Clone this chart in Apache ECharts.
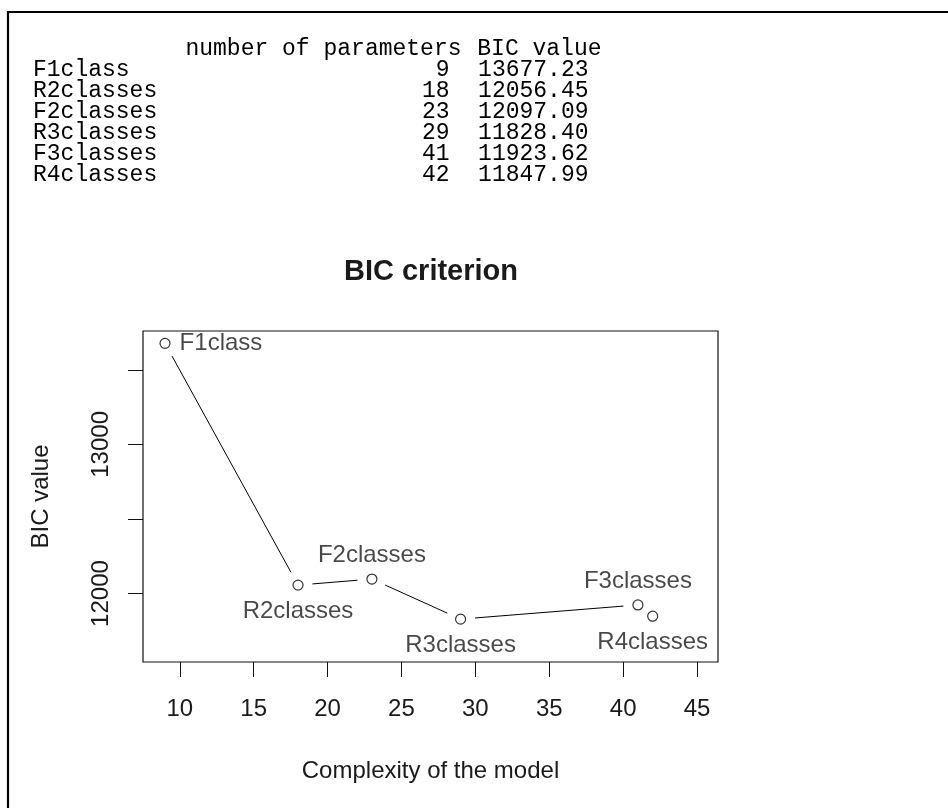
<!DOCTYPE html>
<html>
<head>
<meta charset="utf-8">
<title>BIC criterion</title>
<script src="https://cdn.jsdelivr.net/npm/echarts@6/dist/echarts.min.js"></script>
<style>
  html, body { margin: 0; padding: 0; background: #fff; }
  #chart { width: 948px; height: 808px; }
</style>
</head>
<body>
<div id="chart"></div>
<script>
// Model comparison: number of parameters and BIC value for each fitted model
const modelNames = ['F1class', 'R2classes', 'F2classes', 'R3classes', 'F3classes', 'R4classes'];
const paramCounts = [9, 18, 23, 29, 41, 42];
const bicValues = [13677.23, 12056.45, 12097.09, 11828.40, 11923.62, 11847.99];

// Axis ticks and the subset that carries labels
const xTickValues = [10, 15, 20, 25, 30, 35, 40, 45];
const yTickValues = [12000, 12500, 13000, 13500];
const yLabelValues = [12000, 13000];

// Table header
const tableHeader = ['number of parameters', 'BIC value'];

const chart = echarts.init(document.getElementById('chart'), null, { renderer: 'canvas' });

const plotFont = 'Liberation Sans, Arial, sans-serif';
const monoFont = 'Liberation Mono, Courier New, monospace';
const textColor = '#1a1a1a';

// Label side for each point name (text placed around its marker)
const labelSide = {
  F1class: 'right', R2classes: 'bottom', F2classes: 'top',
  R3classes: 'bottom', F3classes: 'top', R4classes: 'bottom'
};
const labelGap = { right: 9, bottom: 9, top: 6 };

// Printed summary table above the plot
const tableGraphics = [];
const rowTop = 69.5, rowStep = 21;
const monoStyle = { font: '23px ' + monoFont, fill: '#000', textVerticalAlign: 'middle' };
tableGraphics.push({
  type: 'text', x: 461.5, y: rowTop - rowStep,
  style: Object.assign({ text: tableHeader[0], textAlign: 'right' }, monoStyle)
});
tableGraphics.push({
  type: 'text', x: 601.5, y: rowTop - rowStep,
  style: Object.assign({ text: tableHeader[1], textAlign: 'right' }, monoStyle)
});
modelNames.forEach((name, i) => {
  const y = rowTop + i * rowStep;
  tableGraphics.push({
    type: 'text', x: 33, y: y,
    style: Object.assign({ text: name, textAlign: 'left' }, monoStyle)
  });
  tableGraphics.push({
    type: 'text', x: 449.5, y: y,
    style: Object.assign({ text: String(paramCounts[i]), textAlign: 'right' }, monoStyle)
  });
  tableGraphics.push({
    type: 'text', x: 588.5, y: y,
    style: Object.assign({ text: bicValues[i].toFixed(2), textAlign: 'right' }, monoStyle)
  });
});

// Frame around the output
const frame = {
  type: 'polyline',
  shape: { points: [[8, 808], [8, 12], [948, 12]] },
  style: { stroke: '#000', lineWidth: 2.2, fill: null }
};

const title = {
  type: 'text', x: 431, y: 271.5,
  style: { text: 'BIC criterion', font: 'bold 29px ' + plotFont, fill: textColor, textAlign: 'center', textVerticalAlign: 'middle' }
};

const points = modelNames.map((name, i) => {
  const side = labelSide[name];
  return {
    value: [paramCounts[i], bicValues[i]],
    name: name,
    label: { position: side, distance: labelGap[side] }
  };
});

const lineData = modelNames.map((name, i) => [paramCounts[i], bicValues[i]]);

// "both" style: segments joining consecutive points, stopping short of the markers
function renderGapLine(params, api) {
  const i = params.dataIndex;
  if (i >= paramCounts.length - 1) return null;
  const a = api.coord([paramCounts[i], bicValues[i]]);
  const b = api.coord([paramCounts[i + 1], bicValues[i + 1]]);
  const dx = b[0] - a[0], dy = b[1] - a[1];
  const len = Math.sqrt(dx * dx + dy * dy);
  const gap = 14.5;
  if (len <= 2 * gap) return null;
  const ux = dx / len, uy = dy / len;
  return {
    type: 'line',
    shape: { x1: a[0] + ux * gap, y1: a[1] + uy * gap, x2: b[0] - ux * gap, y2: b[1] - uy * gap },
    style: { stroke: '#000', lineWidth: 1 }
  };
}

const option = {
  backgroundColor: '#fff',
  animation: false,
  graphic: [frame, title].concat(tableGraphics),
  grid: {
    left: 143, right: 230, top: 331, bottom: 146,
    show: true, borderColor: '#111', borderWidth: 1.2, backgroundColor: 'transparent'
  },
  xAxis: {
    type: 'value',
    min: 7.51, max: 46.42,
    name: 'Complexity of the model',
    nameLocation: 'middle',
    nameGap: 97,
    nameTextStyle: { fontFamily: plotFont, fontSize: 24, color: textColor },
    axisLine: { show: false },
    splitLine: { show: false },
    axisTick: { show: true, inside: false, length: 15, customValues: xTickValues, lineStyle: { color: '#111', width: 1 } },
    axisLabel: { show: true, customValues: xTickValues, formatter: v => String(v), margin: 35, fontFamily: plotFont, fontSize: 24, color: textColor }
  },
  yAxis: {
    type: 'value',
    min: 11541, max: 13760,
    name: 'BIC value',
    nameLocation: 'middle',
    nameRotate: 90,
    nameGap: 90,
    nameTextStyle: { fontFamily: plotFont, fontSize: 24, color: textColor },
    axisLine: { show: false },
    splitLine: { show: false },
    axisTick: { show: true, inside: false, length: 15, customValues: yTickValues, lineStyle: { color: '#111', width: 1 } },
    axisLabel: { show: true, customValues: yLabelValues, formatter: v => String(v), rotate: 90, margin: 30, fontFamily: plotFont, fontSize: 24, color: textColor }
  },
  series: [
    {
      type: 'custom',
      renderItem: renderGapLine,
      data: lineData,
      encode: { x: 0, y: 1 },
      clip: false,
      silent: true,
      z: 1
    },
    {
      type: 'scatter',
      data: points,
      symbol: 'circle',
      symbolSize: 10,
      itemStyle: { color: '#fff', borderColor: '#000', borderWidth: 1.2 },
      label: {
        show: true,
        formatter: p => p.name,
        fontFamily: plotFont,
        fontSize: 24,
        color: textColor
      },
      z: 2
    }
  ]
};

chart.setOption(option);
</script>
</body>
</html>
